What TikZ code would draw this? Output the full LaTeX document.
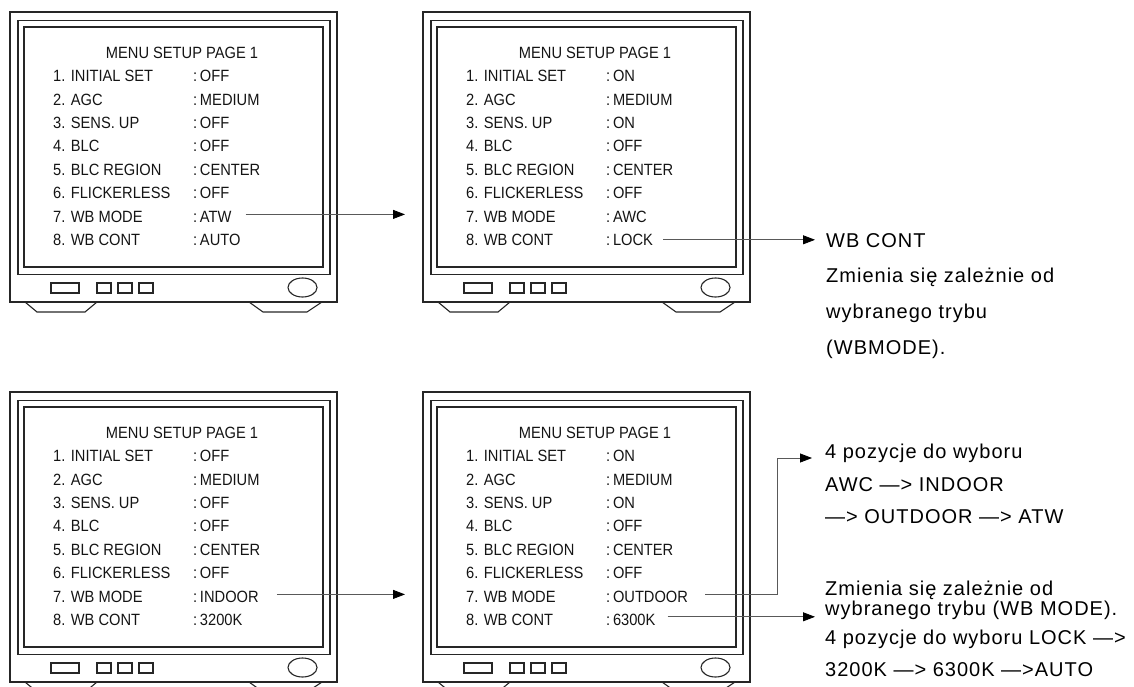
\documentclass[tikz,border=0pt]{standalone}
\usepackage{fontspec}
\usetikzlibrary{arrows.meta}
\newfontfamily\monfont[FakeStretch=0.9]{Liberation Sans}
\newfontfamily\notefont[LetterSpace=5]{Liberation Sans}
\tikzset{
  body/.style={draw=black!85, line width=1.3pt},
  part/.style={draw=black!85, line width=1.1pt},
  menutxt/.style={font=\monfont\fontsize{16.3}{18}\selectfont, text=black!92, inner sep=0pt, text height=11.5pt, text depth=0pt, anchor=west},
  menutitle/.style={menutxt, anchor=center},
  note/.style={font=\notefont\fontsize{20}{24}\selectfont, inner sep=0pt, anchor=base west},
  link/.style={draw=black!65, line width=0.8pt, -{Triangle[length=12pt,width=9pt,color=black]}},
}
\newcommand\drawmonitor[4]{%
  \begin{scope}[shift={(#2,#3)}]
    \coordinate (#1in) at (-18,0);
    \draw[body] (0,0) rectangle (327,290);
    \draw[part] (8,8.5) rectangle (320,262.5);
    \draw[part] (14,15) rectangle (313,255);
    \draw[part] (41,271) rectangle (69,281);
    \draw[part] (87,271) rectangle (101,281);
    \draw[part] (108,271) rectangle (122,281);
    \draw[part] (129,271) rectangle (143,281);
    \draw[part] (292.5,275.5) ellipse [x radius=14.5, y radius=9.5];
    \draw[part] (15,290) -- (27,300) -- (75,300) -- (87,290);
    \draw[part] (239,290) -- (253,300) -- (297,300) -- (312,290);
    \node[menutitle] (#1t) at (172,41) {MENU SETUP PAGE 1};
    \foreach \lab [count=\i] in {1. INITIAL SET, 2. AGC, 3. SENS. UP, 4. BLC, 5. BLC REGION, 6. FLICKERLESS, 7. WB MODE, 8. WB CONT}
      \node[menutxt] (#1l\i) at (43,{64+23.4*(\i-1)}) {\lab};
    \foreach \val [count=\i] in {#4}
      \node[menutxt] (#1v\i) at (183,{64+23.4*(\i-1)}) {:\,\val};
  \end{scope}
}
\begin{document}
\begin{tikzpicture}[x=1pt,y=-1pt]
  \useasboundingbox (0,0) rectangle (1134,687);
  \clip (0,0) rectangle (1134,687);
  \drawmonitor{m1}{10}{12}{OFF,MEDIUM,OFF,OFF,CENTER,OFF,ATW,AUTO}
  \drawmonitor{m2}{423}{12}{ON,MEDIUM,ON,OFF,CENTER,OFF,AWC,LOCK}
  \drawmonitor{m3}{10}{392}{OFF,MEDIUM,OFF,OFF,CENTER,OFF,INDOOR,3200K}
  \drawmonitor{m4}{423}{392}{ON,MEDIUM,ON,OFF,CENTER,OFF,OUTDOOR,6300K}

  % notes, top
  \node[note] (a1) at (826,247) {WB CONT};
  \node[note] (a2) at (826,282) {Zmienia się zależnie od};
  \node[note] (a3) at (826,318) {wybranego trybu};
  \node[note] (a4) at (826,354) {(WBMODE).};
  % notes, bottom
  \node[note] (b1) at (825,458) {4 pozycje do wyboru};
  \node[note] (b2) at (825,491) {AWC —> INDOOR};
  \node[note] (b3) at (825,523) {—> OUTDOOR —> ATW};
  \node[note] (b4) at (825,595) {Zmienia się zależnie od};
  \node[note] (b5) at (825,615) {wybranego trybu (WB MODE).};
  \node[note] (b6) at (825,644) {4 pozycje do wyboru LOCK —>};
  \node[note] (b7) at (825,676) {3200K —> 6300K —>AUTO};

  % connector end points
  \coordinate (e2) at ([xshift=-11pt,yshift=8pt]a1.base west);
  \coordinate (e4) at ([xshift=-13pt]b1.base west);
  \coordinate (k4) at ([xshift=-48pt]b1.base west);
  \coordinate (e5) at ([xshift=-10pt]b5.base west);

  % connectors
  \draw[link] ([xshift=14pt,yshift=2pt]m1v7.east) coordinate (s1) -- (s1 -| m2in);
  \draw[link] ([xshift=10pt]m2v8.east) -- (m2v8.east -| e2);
  \draw[link] ([xshift=18pt,yshift=2pt]m3v7.east) coordinate (s3) -- (s3 -| m4in);
  \draw[link] ([xshift=17pt,yshift=2pt]m4v7.east) -| (k4) -- (e4);
  \draw[link] ([xshift=12pt,yshift=3pt]m4v8.east) coordinate (s5) -- (s5 -| e5);
\end{tikzpicture}
\end{document}
